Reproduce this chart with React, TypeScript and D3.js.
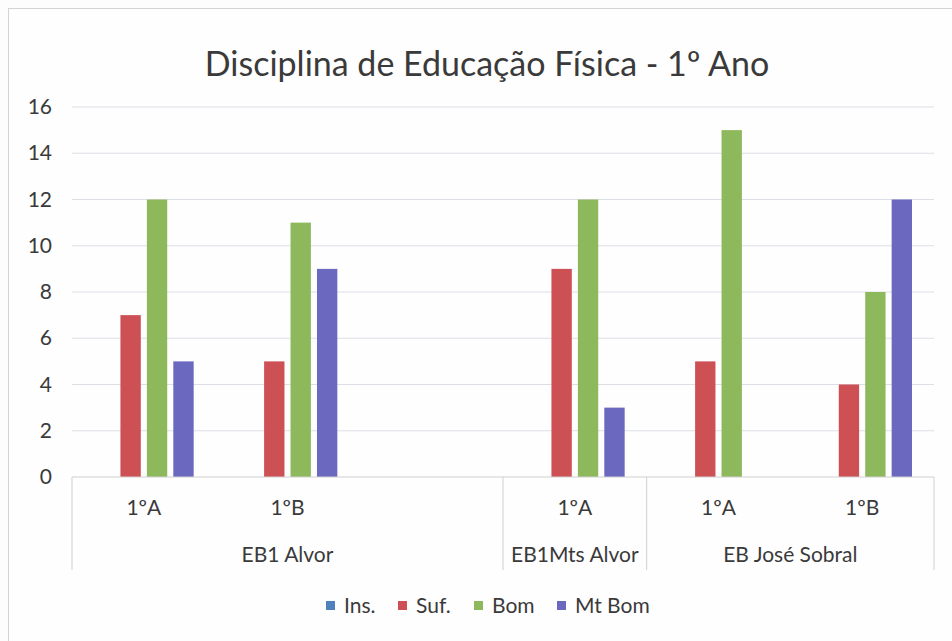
import React from "react";
import * as d3 from "d3";

const title = "Disciplina de Educação Física - 1º Ano";
const series = ["Ins.", "Suf.", "Bom", "Mt Bom"];
const colors = ["#4F81BD", "#CD5054", "#8EB85C", "#6B68BF"];
const classes = ["1ºA", "1ºB", "", "1ºA", "1ºA", "1ºB"];
const schools = ["EB1 Alvor", "EB1 Alvor", "EB1 Alvor", "EB1Mts Alvor", "EB José Sobral", "EB José Sobral"];
const insValues = [0, 0, null, 0, 0, 0];
const sufValues = [7, 5, null, 9, 5, 4];
const bomValues = [12, 11, null, 12, 15, 8];
const mtBomValues = [5, 9, null, 3, 0, 12];
const yTicks = [0, 2, 4, 6, 8, 10, 12, 14, 16];

const W = 952;
const H = 641;
const left = 72;
const right = 934;
const top = 107;
const bottom = 477;
const font = "Lato, 'Open Sans', sans-serif";
const textColor = "#3a3a3a";

export default function App() {
  const allValues = [insValues, sufValues, bomValues, mtBomValues];
  const idx = classes.map((_, i) => String(i));
  const x = d3.scaleBand().domain(idx).range([left, right]).paddingInner(0).paddingOuter(0);
  const inner = d3.scaleBand().domain(series).range([22, x.bandwidth() - 22]).paddingInner(0.23);
  const y = d3.scaleLinear().domain([0, 16]).range([bottom, top]);

  const groups: { name: string; start: number; end: number }[] = [];
  schools.forEach((s, i) => {
    const last = groups[groups.length - 1];
    if (last && last.name === s) last.end = i;
    else groups.push({ name: s, start: i, end: i });
  });

  const legendX = [326, 398, 474, 557];

  return (
    <svg width={W} height={H} style={{ position: "absolute", left: 0, top: 0, background: "#fdfdfd" }}>
      <rect x={0} y={0} width={W} height={H} fill="#fdfdfd" />
      <rect x={8.5} y={8.5} width={1000} height={1000} fill="#fefefe" stroke="#d4d4d8" strokeWidth={1} />
      <text x={487} y={76} textAnchor="middle" fontFamily={font} fontSize={34} fill={textColor}>
        {title}
      </text>
      {yTicks.map((t) => (
        <g key={t}>
          {t > 0 && (
            <line x1={left} x2={right} y1={y(t)} y2={y(t)} stroke="#dcdfe6" strokeWidth={1} />
          )}
          <text x={52} y={y(t) + 7} textAnchor="end" fontFamily={font} fontSize={21} fill={textColor}>
            {t}
          </text>
        </g>
      ))}
      {allValues.map((vals, si) =>
        vals.map((v, ci) =>
          v == null || v === 0 ? null : (
            <rect
              key={`${si}-${ci}`}
              x={(x(String(ci)) as number) + (inner(series[si]) as number)}
              y={y(v)}
              width={inner.bandwidth()}
              height={bottom - y(v)}
              fill={colors[si]}
            />
          )
        )
      )}
      <line x1={left} x2={right} y1={bottom} y2={bottom} stroke="#d0d0d0" strokeWidth={1} />
      {groups.map((g, gi) => {
        const x0 = x(String(g.start)) as number;
        const x1 = (x(String(g.end)) as number) + x.bandwidth();
        return (
          <g key={gi}>
            {gi === 0 && <line x1={x0} x2={x0} y1={bottom} y2={570} stroke="#d0d0d0" />}
            <line x1={x1} x2={x1} y1={bottom} y2={570} stroke="#d0d0d0" />
            <text x={(x0 + x1) / 2} y={562} textAnchor="middle" fontFamily={font} fontSize={21} fill={textColor}>
              {g.name}
            </text>
          </g>
        );
      })}
      {classes.map((c, i) => (
        <text
          key={i}
          x={(x(String(i)) as number) + x.bandwidth() / 2}
          y={515}
          textAnchor="middle"
          fontFamily={font}
          fontSize={21}
          fill={textColor}
        >
          {c}
        </text>
      ))}
      {series.map((s, i) => (
        <g key={s}>
          <rect x={legendX[i]} y={601} width={9} height={9} fill={colors[i]} />
          <text x={legendX[i] + 18} y={613} fontFamily={font} fontSize={21} fill={textColor}>
            {s}
          </text>
        </g>
      ))}
    </svg>
  );
}
